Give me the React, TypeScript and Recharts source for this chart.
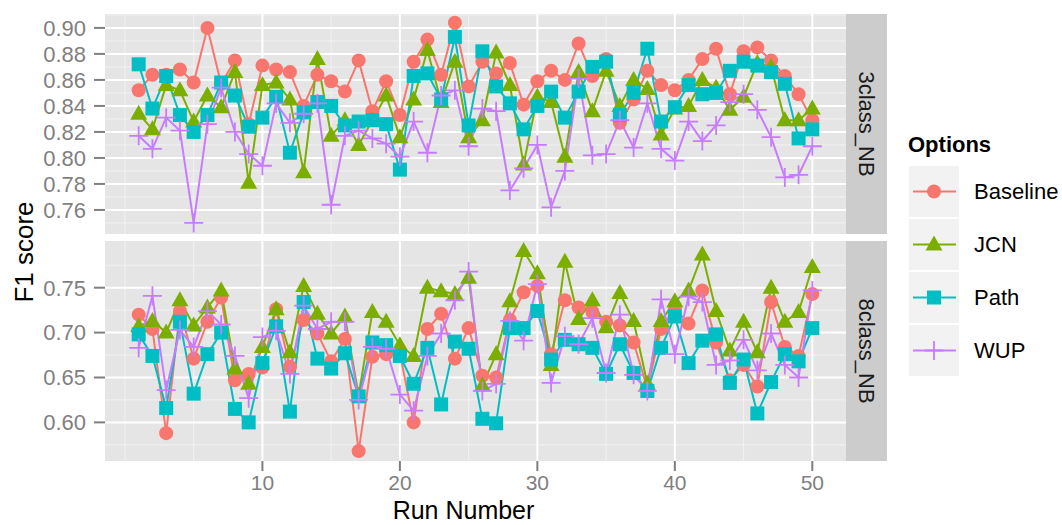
import React from "react";
import { LineChart, Line, XAxis, YAxis, CartesianGrid } from "recharts";

const runs = [
  1, 2, 3, 4, 5, 6, 7, 8, 9, 10, 11, 12, 13, 14, 15, 16, 17, 18, 19, 20, 21, 22, 23, 24, 25,
  26, 27, 28, 29, 30, 31, 32, 33, 34, 35, 36, 37, 38, 39, 40, 41, 42, 43, 44, 45, 46, 47, 48, 49, 50,
];

// 3class_NB
const baseline3 = [
  0.852, 0.864, 0.864, 0.868, 0.858, 0.9, 0.857, 0.875, 0.826, 0.871, 0.868, 0.866, 0.84, 0.864, 0.859, 0.851, 0.875,
  0.836, 0.859, 0.833, 0.874, 0.891, 0.864, 0.904, 0.855, 0.874, 0.865, 0.873, 0.841, 0.859, 0.867, 0.86, 0.888, 0.863,
  0.876, 0.827, 0.845, 0.867, 0.856, 0.852, 0.86, 0.876, 0.884, 0.849, 0.882, 0.885, 0.875, 0.863, 0.849, 0.829,
];
const jcn3 = [
  0.834, 0.822, 0.856, 0.852, 0.828, 0.848, 0.839, 0.866, 0.781, 0.856, 0.858, 0.845, 0.789, 0.876, 0.817, 0.829, 0.81,
  0.829, 0.848, 0.816, 0.845, 0.883, 0.843, 0.874, 0.816, 0.829, 0.881, 0.856, 0.795, 0.847, 0.843, 0.801, 0.866, 0.836,
  0.867, 0.84, 0.86, 0.853, 0.818, 0.838, 0.84, 0.86, 0.854, 0.837, 0.847, 0.873, 0.87, 0.829, 0.829, 0.838,
];
const path3 = [
  0.872, 0.838, 0.863, 0.833, 0.82, 0.833, 0.858, 0.848, 0.824, 0.831, 0.847, 0.804, 0.835, 0.843, 0.84, 0.825, 0.828,
  0.829, 0.826, 0.791, 0.863, 0.865, 0.845, 0.893, 0.825, 0.882, 0.855, 0.842, 0.822, 0.84, 0.851, 0.831, 0.851, 0.87,
  0.874, 0.833, 0.85, 0.884, 0.828, 0.839, 0.856, 0.849, 0.85, 0.867, 0.874, 0.871, 0.866, 0.857, 0.815, 0.822,
];
const wup3 = [
  0.817, 0.807, 0.831, 0.821, 0.75, 0.826, 0.854, 0.82, 0.803, 0.794, 0.842, 0.827, 0.834, 0.842, 0.764, 0.817, 0.821,
  0.815, 0.811, 0.801, 0.828, 0.804, 0.848, 0.852, 0.809, 0.838, 0.836, 0.775, 0.792, 0.81, 0.762, 0.79, 0.861, 0.802,
  0.803, 0.829, 0.808, 0.842, 0.807, 0.798, 0.828, 0.813, 0.825, 0.843, 0.849, 0.837, 0.816, 0.785, 0.787, 0.809,
];

// 8class_NB
const baseline8 = [
  0.72, 0.704, 0.588, 0.724, 0.671, 0.712, 0.739, 0.647, 0.654, 0.661, 0.726, 0.662, 0.714, 0.699, 0.668, 0.693, 0.568,
  0.673, 0.676, 0.677, 0.6, 0.704, 0.721, 0.671, 0.705, 0.652, 0.65, 0.714, 0.745, 0.752, 0.676, 0.736, 0.728, 0.723,
  0.712, 0.708, 0.689, 0.638, 0.704, 0.727, 0.71, 0.747, 0.689, 0.647, 0.664, 0.64, 0.734, 0.684, 0.674, 0.743,
];
const jcn8 = [
  0.707, 0.713, 0.7, 0.736, 0.708, 0.728, 0.747, 0.66, 0.643, 0.684, 0.726, 0.678, 0.752, 0.721, 0.699, 0.718, 0.63,
  0.723, 0.712, 0.686, 0.674, 0.75, 0.746, 0.743, 0.761, 0.641, 0.676, 0.735, 0.791, 0.766, 0.664, 0.779, 0.715, 0.736,
  0.706, 0.744, 0.713, 0.643, 0.713, 0.735, 0.747, 0.787, 0.724, 0.68, 0.712, 0.678, 0.75, 0.712, 0.723, 0.773,
];
const path8 = [
  0.698, 0.674, 0.616, 0.712, 0.632, 0.676, 0.7, 0.615, 0.6, 0.666, 0.707, 0.612, 0.734, 0.671, 0.66, 0.677, 0.629,
  0.689, 0.686, 0.674, 0.643, 0.683, 0.62, 0.69, 0.682, 0.604, 0.599, 0.705, 0.705, 0.724, 0.67, 0.692, 0.687, 0.683,
  0.654, 0.687, 0.655, 0.635, 0.683, 0.718, 0.666, 0.691, 0.698, 0.644, 0.67, 0.61, 0.645, 0.676, 0.668, 0.705,
];
const wup8 = [
  0.683, 0.741, 0.636, 0.703, 0.684, 0.724, 0.709, 0.674, 0.627, 0.695, 0.702, 0.654, 0.73, 0.704, 0.712, 0.712, 0.625,
  0.684, 0.682, 0.631, 0.613, 0.674, 0.699, 0.736, 0.768, 0.635, 0.643, 0.713, 0.691, 0.754, 0.644, 0.696, 0.687, 0.716,
  0.655, 0.72, 0.653, 0.635, 0.737, 0.676, 0.74, 0.734, 0.664, 0.669, 0.692, 0.658, 0.699, 0.664, 0.65, 0.747,
];

const seriesNames = ["Baseline", "JCN", "Path", "WUP"];
const seriesColors = ["#F8766D", "#7CAE00", "#00BFC4", "#C77CFF"];
const seriesShapes = ["circle", "triangle", "square", "plus"];

const yTicks3 = [0.76, 0.78, 0.8, 0.82, 0.84, 0.86, 0.88, 0.9];
const yMinor3 = [0.75, 0.77, 0.79, 0.81, 0.83, 0.85, 0.87, 0.89, 0.91];
const yTicks8 = [0.6, 0.65, 0.7, 0.75];
const yMinor8 = [0.575, 0.625, 0.675, 0.725, 0.775];
const xTicks = [10, 20, 30, 40, 50];
const xMinor = [0, 5, 15, 25, 35, 45];
const xDomain: [number, number] = [-1.45, 52.45];

const toRows = (b: number[], j: number[], p: number[], w: number[]) =>
  runs.map((run, i) => ({ run, Baseline: b[i], JCN: j[i], Path: p[i], WUP: w[i] }));

const rows3 = toRows(baseline3, jcn3, path3, wup3);
const rows8 = toRows(baseline8, jcn8, path8, wup8);

const GREY = "#7F7F7F";

function Marker({ shape, cx, cy, color }: { shape: string; cx: number; cy: number; color: string }) {
  if (cx == null || cy == null) return null;
  if (shape === "circle") return <circle cx={cx} cy={cy} r={7} fill={color} />;
  if (shape === "square") return <rect x={cx - 7} y={cy - 7} width={14} height={14} fill={color} />;
  if (shape === "triangle")
    return <polygon points={`${cx},${cy - 9} ${cx - 8.5},${cy + 6} ${cx + 8.5},${cy + 6}`} fill={color} />;
  return (
    <path
      d={`M${cx - 9.5},${cy}H${cx + 9.5}M${cx},${cy - 9.5}V${cy + 9.5}`}
      stroke={color}
      strokeWidth={1.8}
      fill="none"
    />
  );
}

// grid positions follow the same linear mapping as the axes' domains
const gridY = (vals: number[], domain: [number, number]) => ({ offset }: any) =>
  vals.map((v) => offset.top + ((domain[1] - v) / (domain[1] - domain[0])) * offset.height);
const gridX = (vals: number[]) => ({ offset }: any) =>
  vals.map((v) => offset.left + ((v - xDomain[0]) / (xDomain[1] - xDomain[0])) * offset.width);

interface PanelProps {
  data: any[];
  domain: [number, number];
  ticks: number[];
  minor: number[];
  top: number;
  showX: boolean;
}

const Panel: React.FC<PanelProps> = ({ data, domain, ticks, minor, top, showX }) => (
  <LineChart
    width={1062}
    height={showX ? 525 : top + 222}
    data={data}
    margin={{ top, right: 216, bottom: showX ? 0 : 2, left: 0 }}
  >
    <CartesianGrid
      fill="#E5E5E5"
      stroke="#F2F2F2"
      strokeWidth={1}
      horizontalCoordinatesGenerator={gridY(minor, domain)}
      verticalCoordinatesGenerator={gridX(xMinor)}
    />
    <CartesianGrid
      fill="none"
      stroke="#FFFFFF"
      strokeWidth={2}
      horizontalCoordinatesGenerator={gridY(ticks, domain)}
      verticalCoordinatesGenerator={gridX(xTicks)}
    />
    <XAxis
      type="number"
      dataKey="run"
      domain={xDomain}
      allowDataOverflow
      ticks={xTicks}
      interval={0}
      hide={!showX}
      height={64}
      axisLine={false}
      tickSize={10}
      tickMargin={4}
      tickLine={{ stroke: GREY, strokeWidth: 2 }}
      tick={{ fill: GREY, fontSize: 21 }}
      label={{ value: "Run Number", position: "insideBottom", offset: 6, dx: -12, fontSize: 25, fill: "#000" }}
    />
    <YAxis
      type="number"
      domain={domain}
      allowDataOverflow
      ticks={ticks}
      interval={0}
      width={105}
      axisLine={false}
      tickSize={11}
      tickMargin={8}
      tickLine={{ stroke: GREY, strokeWidth: 2 }}
      tick={{ fill: GREY, fontSize: 22 }}
      tickFormatter={(v: number) => v.toFixed(2)}
    />
    {seriesNames.map((name, i) => (
      <Line
        key={`line-${name}`}
        type="linear"
        dataKey={name}
        stroke={seriesColors[i]}
        strokeWidth={2}
        dot={false}
        activeDot={false}
        isAnimationActive={false}
      />
    ))}
    {seriesNames.map((name, i) => (
      <Line
        key={`pts-${name}`}
        type="linear"
        dataKey={name}
        stroke="none"
        activeDot={false}
        isAnimationActive={false}
        dot={(p: any) => (
          <Marker key={`${name}-${p.index}`} shape={seriesShapes[i]} cx={p.cx} cy={p.cy} color={seriesColors[i]} />
        )}
      />
    ))}
  </LineChart>
);

const Overlay = () => (
  <svg width={1062} height={525} style={{ position: "absolute", left: 0, top: 0, pointerEvents: "none" }}>
    <text x={24} y={252} fontSize={26} fill="#000" textAnchor="middle" dominantBaseline="central" transform="rotate(-90 24 252)">
      F1 score
    </text>
    <rect x={846} y={14} width={41} height={220} fill="#CCCCCC" />
    <text x={866} y={124} fontSize={22} fill="#1A1A1A" textAnchor="middle" dominantBaseline="central" transform="rotate(90 866 124)">
      3class_NB
    </text>
    <rect x={846} y={241} width={41} height={220} fill="#CCCCCC" />
    <text x={866} y={351} fontSize={22} fill="#1A1A1A" textAnchor="middle" dominantBaseline="central" transform="rotate(90 866 351)">
      8class_NB
    </text>
    <text x={908} y={152} fontSize={22} fontWeight="bold" fill="#000">
      Options
    </text>
    {seriesNames.map((name, i) => {
      const y0 = 166 + i * 53;
      const cy = y0 + 25.5;
      return (
        <g key={name}>
          <rect x={909} y={y0} width={50} height={51} fill="#F2F2F2" />
          <line x1={913} x2={956} y1={cy} y2={cy} stroke={seriesColors[i]} strokeWidth={2} />
          <Marker shape={seriesShapes[i]} cx={934} cy={cy} color={seriesColors[i]} />
          <text x={974} y={cy} fontSize={22} fill="#000" dominantBaseline="central">
            {name}
          </text>
        </g>
      );
    })}
  </svg>
);

export default function App() {
  return (
    <div
      style={{
        position: "absolute",
        left: 0,
        top: 0,
        width: 1062,
        height: 525,
        background: "#fff",
        overflow: "hidden",
        fontFamily: "'Liberation Sans', Arial, sans-serif",
      }}
    >
      <div style={{ position: "absolute", left: 0, top: 0 }}>
        <Panel data={rows3} domain={[0.7415, 0.9107]} ticks={yTicks3} minor={yMinor3} top={14} showX={false} />
      </div>
      <div style={{ position: "absolute", left: 0, top: 0 }}>
        <Panel data={rows8} domain={[0.557, 0.802]} ticks={yTicks8} minor={yMinor8} top={241} showX={true} />
      </div>
      <Overlay />
    </div>
  );
}
